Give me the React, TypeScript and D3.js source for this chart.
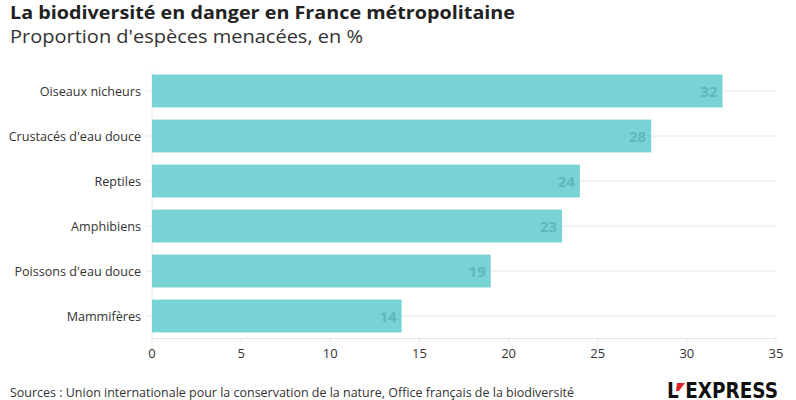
import React from "react";
import * as d3 from "d3";

const categories = ["Oiseaux nicheurs", "Crustacés d'eau douce", "Reptiles", "Amphibiens", "Poissons d'eau douce", "Mammifères"];
const values = [32, 28, 24, 23, 19, 14];
const xTicks = [0, 5, 10, 15, 20, 25, 30, 35];

const W = 796;
const H = 400;
const FONT = "'Source Sans Pro', 'Open Sans', 'Noto Sans', sans-serif";

export default function App() {
  const x = d3.scaleLinear().domain([0, 35]).range([152, 776]);
  const y = d3.scaleBand<string>().domain(categories).range([68.5, 338.5]).paddingInner(0.27).paddingOuter(0.135);
  const bw = y.bandwidth();
  return (
    <svg width={W} height={H} style={{ position: "absolute", left: 0, top: 0, background: "#fff" }} fontFamily={FONT}>
      <text x={10} y={19} fontSize={18.5} fontWeight={700} fill="#222" textLength={505} lengthAdjust="spacingAndGlyphs">
        La biodiversité en danger en France métropolitaine
      </text>
      <text x={10} y={43} fontSize={19} fill="#333" textLength={353} lengthAdjust="spacingAndGlyphs">
        Proportion d'espèces menacées, en %
      </text>
      {categories.map((c) => (
        <line key={c} x1={x(0) - 6} x2={x(35)} y1={y(c)! + bw / 2} y2={y(c)! + bw / 2} stroke="#e6e6e6" strokeWidth={1} />
      ))}
      <line x1={x(0)} x2={x(0)} y1={70} y2={338.5} stroke="#e6e6e6" />
      <line x1={x(0)} x2={x(35)} y1={338.5} y2={338.5} stroke="#e6e6e6" />
      {xTicks.map((t) => (
        <g key={t}>
          <line x1={x(t)} x2={x(t)} y1={338.5} y2={343} stroke="#e6e6e6" />
          <text x={x(t)} y={358} fontSize={13} fill="#333" textAnchor="middle">{t}</text>
        </g>
      ))}
      {categories.map((c, i) => (
        <g key={c}>
          <rect x={x(0)} y={y(c)!} width={x(values[i]) - x(0)} height={bw} fill="#79d2d3" />
          <text x={141} y={y(c)! + bw / 2 + 4.5} fontSize={12.6} fill="#333" textAnchor="end">{c}</text>
          <text x={x(values[i]) - 5} y={y(c)! + bw / 2 + 5.5} fontSize={15} fontWeight={700} fill="#5db9bc" textAnchor="end">{values[i]}</text>
        </g>
      ))}
      <text x={10} y={397} fontSize={13} fill="#333" textLength={564} lengthAdjust="spacingAndGlyphs">
        Sources : Union internationale pour la conservation de la nature, Office français de la biodiversité
      </text>
      <g>
        <text x={667} y={398} fontSize={21} fontWeight={700} fill="#111" fontFamily="'Liberation Sans Narrow', 'DejaVu Sans Condensed', sans-serif" textLength={111} lengthAdjust="spacingAndGlyphs">
          L EXPRESS
        </text>
        <path d="M677,383 L685,383 L679,391 L676,391 Z" fill="#e2232a" />
      </g>
    </svg>
  );
}
